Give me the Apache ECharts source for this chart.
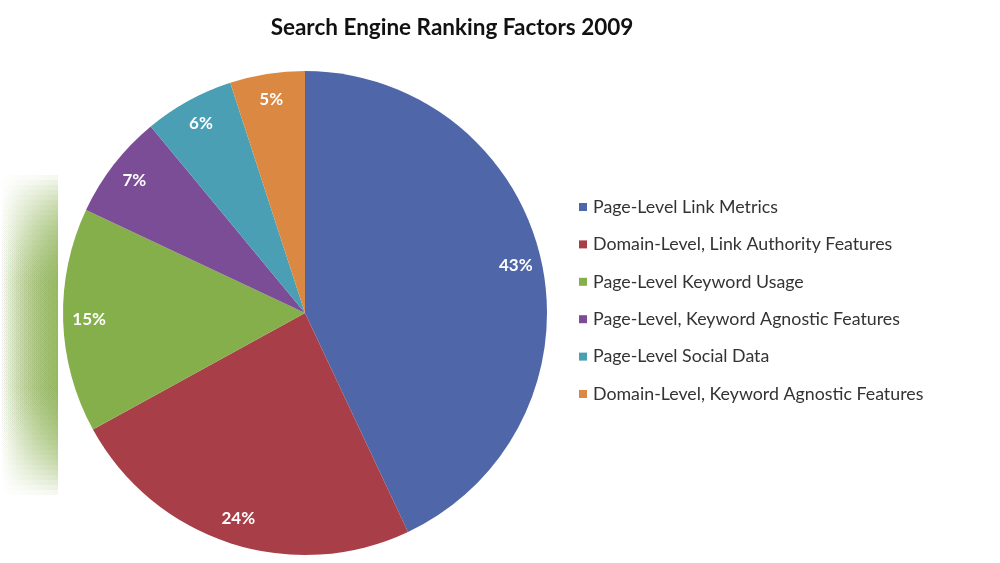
<!DOCTYPE html>
<html>
<head>
<meta charset="utf-8">
<script src="https://cdn.jsdelivr.net/npm/echarts@6/dist/echarts.min.js"></script>
<style>
  html, body { margin: 0; padding: 0; background: #fff; }
  #chart { width: 1000px; height: 563px; }
</style>
</head>
<body>
<div id="chart"></div>
<script>
  // data
  var factorNames = [
    'Page-Level Link Metrics',
    'Domain-Level, Link Authority Features',
    'Page-Level Keyword Usage',
    'Page-Level, Keyword Agnostic Features',
    'Page-Level Social Data',
    'Domain-Level, Keyword Agnostic Features'
  ];
  var factorShares = [43, 24, 15, 7, 6, 5];
  var sliceColors = ['#4F67A8', '#A83E48', '#85AF4B', '#7A4D96', '#4A9FB4', '#DB8842'];

  var pieData = factorNames.map(function (name, i) {
    return { name: name, value: factorShares[i] };
  });

  // soft blurred strip at the left edge of the screenshot, built from stacked faint layers
  var backdrop = [];
  for (var k = 0; k < 22; k++) {
    backdrop.push({
      type: 'rect', silent: true, z: -20,
      shape: { x: 0, y: 175 + k * 5, width: 58, height: 320 - k * 10 },
      style: {
        fill: new echarts.graphic.LinearGradient(0, 0, 1, 0, [
          { offset: 0, color: 'rgba(134,173,74,0)' },
          { offset: 1, color: 'rgba(134,173,74,0.085)' }
        ])
      }
    });
  }
  backdrop.push({
    type: 'rect', silent: true, z: -10,
    shape: { x: 58, y: 0, width: 942, height: 563 },
    style: { fill: '#fff' }
  });

  var chart = echarts.init(document.getElementById('chart'));
  chart.setOption({
    backgroundColor: '#fff',
    animation: false,
    color: sliceColors,
    title: {
      text: 'Search Engine Ranking Factors 2009',
      left: 447,
      textAlign: 'center',
      top: 11,
      textStyle: { fontFamily: 'Lato', fontWeight: 'bold', fontSize: 22.5, color: '#111' }
    },
    legend: {
      orient: 'vertical',
      left: 574,
      top: 193,
      icon: 'rect',
      itemWidth: 8,
      itemHeight: 8,
      itemGap: 19.4,
      data: factorNames,
      textStyle: { fontFamily: 'Lato', fontSize: 17.8, color: '#333', lineHeight: 17, padding: [0, 0, 0, 1] }
    },
    graphic: backdrop,
    series: [
      {
        type: 'pie',
        center: [305, 313],
        radius: [0, 242],
        startAngle: 90,
        clockwise: true,
        data: pieData,
        label: { show: false },
        labelLine: { show: false },
        itemStyle: { borderWidth: 0 },
        emphasis: { disabled: true }
      },
      {
        // transparent ring, only used to place the percent labels near the rim
        type: 'pie',
        center: [305, 313],
        radius: [184, 242],
        startAngle: 90,
        clockwise: true,
        silent: true,
        data: pieData,
        itemStyle: { color: 'rgba(0,0,0,0)', borderWidth: 0 },
        label: {
          show: true,
          position: 'inside',
          formatter: '{c}%',
          fontFamily: 'Lato',
          fontWeight: 'bold',
          fontSize: 17,
          color: '#fff'
        },
        labelLine: { show: false },
        emphasis: { disabled: true }
      }
    ]
  });
</script>
</body>
</html>
